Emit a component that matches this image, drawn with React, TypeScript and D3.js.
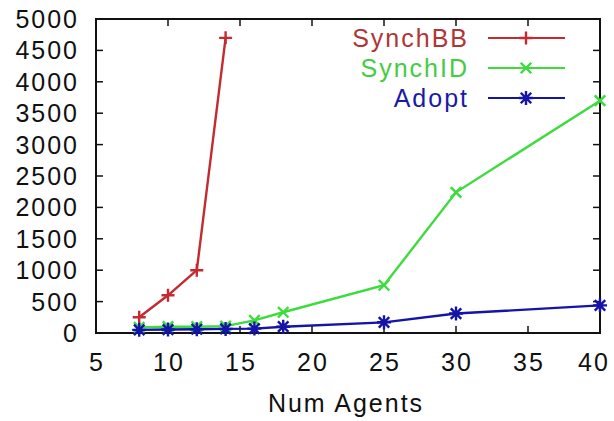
import React from "react";
import * as d3 from "d3";

const synchBBX = [8, 10, 12, 14];
const synchBBY = [250, 600, 1000, 4700];
const synchIDX = [8, 10, 12, 14, 16, 18, 25, 30, 40];
const synchIDY = [90, 100, 100, 110, 200, 330, 760, 2240, 3700];
const adoptX = [8, 10, 12, 14, 16, 18, 25, 30, 40];
const adoptY = [50, 55, 60, 65, 70, 100, 170, 310, 440];
const xTicks = [5, 10, 15, 20, 25, 30, 35, 40];
const yTicks = [0, 500, 1000, 1500, 2000, 2500, 3000, 3500, 4000, 4500, 5000];
const seriesNames = ["SynchBB", "SynchID", "Adopt"];

const W = 614, H = 421;
const L = 96, R = 600, T = 19, B = 333;
const FONT = "'Liberation Sans', Arial, Helvetica, sans-serif";

type Marker = "plus" | "cross" | "star";

function markerPath(kind: Marker, x: number, y: number, s: number) {
  const p = d3.path();
  if (kind === "plus" || kind === "star") {
    p.moveTo(x - s, y); p.lineTo(x + s, y);
    p.moveTo(x, y - s); p.lineTo(x, y + s);
  }
  if (kind === "cross" || kind === "star") {
    const c = s * 0.75;
    p.moveTo(x - c, y - c); p.lineTo(x + c, y + c);
    p.moveTo(x - c, y + c); p.lineTo(x + c, y - c);
  }
  return p.toString();
}

export default function App() {
  const x = d3.scaleLinear().domain([5, 40]).range([L, R]);
  const y = d3.scaleLinear().domain([0, 5000]).range([B, T]);
  const line = d3.line<[number, number]>().x(d => x(d[0])).y(d => y(d[1]));

  const series = [
    { name: seriesNames[0], xs: synchBBX, ys: synchBBY, color: "#c42a30", text: "#b03636", marker: "plus" as Marker, ms: 6.5 },
    { name: seriesNames[1], xs: synchIDX, ys: synchIDY, color: "#3ddc3d", text: "#44cc44", marker: "cross" as Marker, ms: 7 },
    { name: seriesNames[2], xs: adoptX, ys: adoptY, color: "#1414a8", text: "#1a1aaa", marker: "star" as Marker, ms: 7 },
  ];

  const tickStyle = { fontFamily: FONT, fontSize: 25, letterSpacing: 2, fill: "#111" } as React.CSSProperties;

  return (
    <svg width={W} height={H} style={{ position: "absolute", left: 0, top: 0, background: "#fff" }}>
      <rect x={0} y={0} width={W} height={H} fill="#fff" />
      {/* frame */}
      <rect x={L} y={T} width={R - L} height={B - T} fill="none" stroke="#111" strokeWidth={2} />
      {/* y ticks */}
      {yTicks.map(t => (
        <g key={"y" + t}>
          {t > 0 && t < 5000 && <>
            <line x1={L} x2={L + 7} y1={y(t)} y2={y(t)} stroke="#111" strokeWidth={1.5} />
            <line x1={R} x2={R - 7} y1={y(t)} y2={y(t)} stroke="#111" strokeWidth={1.5} />
          </>}
          <text x={79} y={y(t) + 9} textAnchor="end" style={tickStyle}>{t}</text>
        </g>
      ))}
      {/* x ticks */}
      {xTicks.map(t => (
        <g key={"x" + t}>
          {t > 5 && t < 40 && <>
            <line x1={x(t)} x2={x(t)} y1={B} y2={B - 7} stroke="#111" strokeWidth={1.5} />
            <line x1={x(t)} x2={x(t)} y1={T} y2={T + 7} stroke="#111" strokeWidth={1.5} />
          </>}
          <text x={Math.min(x(t) + 1, 594)} y={371} textAnchor="middle" style={tickStyle}>{t}</text>
        </g>
      ))}
      <text x={346} y={412} textAnchor="middle" style={tickStyle}>Num Agents</text>
      {/* series */}
      {series.map(s => {
        const pts: [number, number][] = s.xs.map((v, i) => [v, s.ys[i]]);
        return (
          <g key={s.name}>
            <path d={line(pts) ?? ""} fill="none" stroke={s.color} strokeWidth={2.4} />
            {pts.map((p, i) => (
              <path key={i} d={markerPath(s.marker, x(p[0]), y(p[1]), s.ms)} stroke={s.color} strokeWidth={2.4} fill="none" />
            ))}
          </g>
        );
      })}
      {/* legend */}
      {series.map((s, i) => {
        const ly = 38 + i * 30;
        return (
          <g key={"lg" + s.name}>
            <text x={469} y={ly + 9} textAnchor="end" style={{ ...tickStyle, fill: s.text }}>{s.name}</text>
            <line x1={488} x2={565} y1={ly} y2={ly} stroke={s.color} strokeWidth={2} />
            <path d={markerPath(s.marker, 526, ly, s.ms)} stroke={s.color} strokeWidth={2.4} fill="none" />
          </g>
        );
      })}
    </svg>
  );
}
